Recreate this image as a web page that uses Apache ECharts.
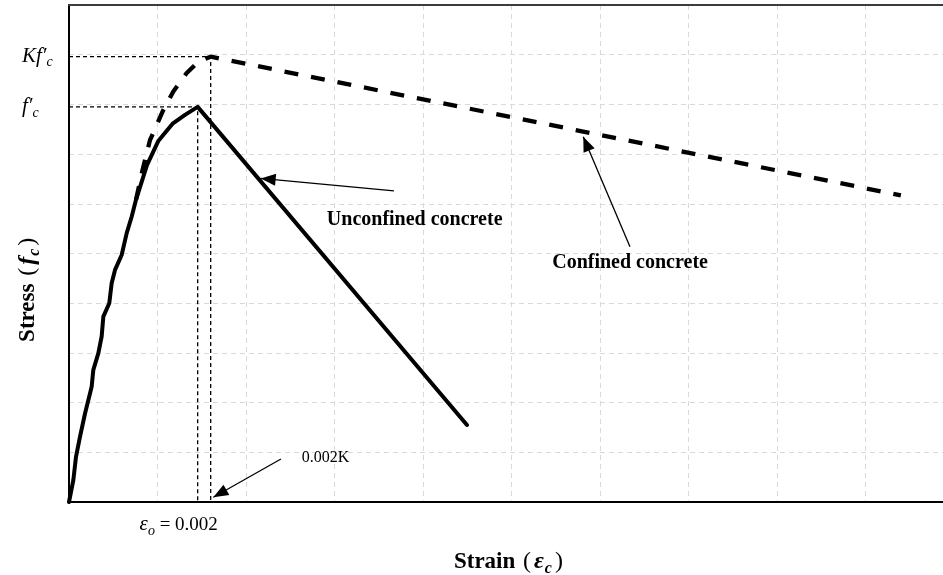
<!DOCTYPE html>
<html>
<head>
<meta charset="utf-8">
<script src="https://cdn.jsdelivr.net/npm/echarts@6/dist/echarts.min.js"></script>
<style>
  html, body { margin: 0; padding: 0; background: #fff; }
  #chart { width: 943px; height: 575px; }
</style>
</head>
<body>
<div id="chart"></div>
<script>
// Stress–strain model for unconfined and confined concrete (relative units)
const fcPrime = 7.95;      // f'c
const kfcPrime = 8.96;     // K f'c
const eps0 = 1.454;        // εo = 0.002
const epsCC = 1.601;       // 0.002K
const strainMax = 9.876;   // visible end of the strain axis

// Unconfined concrete: rising branch up to f'c, then linear softening
const unconfinedCurve = [
  [0, 0], [0.049, 0.44], [0.079, 0.91], [0.124, 1.31], [0.181, 1.78],
  [0.256, 2.32], [0.275, 2.66], [0.331, 2.99], [0.369, 3.33], [0.388, 3.73],
  [0.455, 4.00], [0.482, 4.40], [0.52, 4.67], [0.595, 4.97], [0.652, 5.41],
  [0.708, 5.74], [0.757, 6.08], [0.881, 6.78], [1.011, 7.27], [1.175, 7.62],
  [1.311, 7.79], [eps0, fcPrime], [4.497, 1.55]
];

// Confined concrete: leaves the unconfined branch and peaks at K f'c
const confinedCurve = [
  [0.757, 6.08], [0.831, 6.68], [0.915, 7.28], [1.066, 7.89], [1.179, 8.26],
  [1.330, 8.63], [1.461, 8.86], [epsCC, kfcPrime], [9.40, 6.17]
];

// Guide lines from the peaks to the axes
const fcGuide = [[0, fcPrime], [eps0, fcPrime], [eps0, 0]];
const kfcGuide = [[0, kfcPrime], [epsCC, kfcPrime], [epsCC, 0]];

// Leader arrows: [from, to]
const arrows = [
  [[3.672, 6.26], [2.166, 6.51]],
  [[6.339, 5.137], [5.811, 7.35]],
  [[2.395, 0.865], [1.631, 0.095]]
];

const serif = 'Liberation Serif';
const ink = '#000';

const richMath = {
  it: { fontFamily: serif, fontStyle: 'italic', fontSize: 21, color: ink },
  sub: { fontFamily: serif, fontStyle: 'italic', fontSize: 14, color: ink, padding: [12, 0, 0, 0] },
  rm: { fontFamily: serif, fontSize: 19, color: ink },
  bd: { fontFamily: serif, fontWeight: 'bold', fontSize: 23, color: ink },
  par: { fontFamily: serif, fontSize: 24, color: ink, padding: [0, 2, 0, 2] },
  bi: { fontFamily: serif, fontWeight: 'bold', fontStyle: 'italic', fontSize: 24, color: ink, padding: [0, 1, 0, 1] },
  bsub: { fontFamily: serif, fontWeight: 'bold', fontStyle: 'italic', fontSize: 16, color: ink, padding: [13, 1, 0, 0] }
};

const plain = { textBorderWidth: 0, color: ink, opacity: 1 };

// Text annotations anchored in data space
const annotations = [
  { value: [3.906, 5.68], label: Object.assign({ formatter: 'Unconfined concrete', fontFamily: serif, fontWeight: 'bold', fontSize: 20 }, plain) },
  { value: [6.34, 4.81], label: Object.assign({ formatter: 'Confined concrete', fontFamily: serif, fontWeight: 'bold', fontSize: 20 }, plain) },
  { value: [2.90, 0.885], label: Object.assign({ formatter: '0.002K', fontFamily: serif, fontSize: 16 }, plain) },
  { value: [1.24, -0.46], label: Object.assign({ formatter: '{it|ε}{sub|o}{rm| = 0.002}', rich: richMath }, plain) },
  { value: [-0.531, kfcPrime], label: Object.assign({ formatter: '{it|Kf′}{sub|c}', rich: richMath, align: 'left' }, plain) },
  { value: [-0.531, fcPrime], label: Object.assign({ formatter: '{it|f′}{sub|c}', rich: richMath, align: 'left' }, plain) },
  { value: [4.977, -1.21], label: Object.assign({ formatter: '{bd|Strain }{par|(}{bi|ε}{bsub|c}{par|)}', rich: richMath }, plain) },
  { value: [-0.463, 4.29], label: Object.assign({ formatter: '{bd|Stress }{par|(}{bi|f}{bsub|c}{par|)}', rich: richMath, rotate: 90 }, plain) }
];

const chart = echarts.init(document.getElementById('chart'), null, { renderer: 'canvas' });

const gridLine = { show: true, lineStyle: { color: '#d9d9d9', type: [5, 4], width: 1 } };

chart.setOption({
  animation: false,
  backgroundColor: '#fff',
  grid: { left: 69, top: 5, right: 0, bottom: 73 },
  xAxis: [
    {
      type: 'value', min: 0, max: strainMax, interval: 1,
      axisLine: { show: true, onZero: false, lineStyle: { color: ink, width: 2 } },
      axisTick: { show: false }, axisLabel: { show: false },
      splitLine: gridLine
    },
    {
      // top frame line
      type: 'value', position: 'top', min: 0, max: strainMax,
      axisLine: { show: true, onZero: false, lineStyle: { color: '#3c3c3c', width: 2 } },
      axisTick: { show: false }, axisLabel: { show: false }, splitLine: { show: false }
    }
  ],
  yAxis: {
    type: 'value', min: 0, max: 10, interval: 1,
    axisLine: { show: true, onZero: false, lineStyle: { color: ink, width: 2 } },
    axisTick: { show: false }, axisLabel: { show: false },
    splitLine: gridLine
  },
  series: [
    {
      type: 'line', data: fcGuide, showSymbol: false, silent: true,
      lineStyle: { color: ink, width: 1.3, type: [4, 3] }
    },
    {
      type: 'line', data: kfcGuide, showSymbol: false, silent: true,
      lineStyle: { color: ink, width: 1.3, type: [4, 3] }
    },
    {
      name: 'Unconfined concrete', type: 'line', data: unconfinedCurve, showSymbol: false, silent: true,
      lineStyle: { color: ink, width: 4, join: 'round', cap: 'round' }
    },
    {
      name: 'Confined concrete', type: 'line', data: confinedCurve, showSymbol: false, silent: true,
      lineStyle: { color: ink, width: 4.3, type: [14, 13], join: 'round' },
      markLine: {
        silent: true, animation: false,
        symbol: ['none', 'triangle'], symbolSize: [12, 15], symbolOffset: [[0, 0], [0, 7.5]],
        label: { show: false },
        lineStyle: { color: ink, width: 1.3, type: 'solid' },
        data: arrows.map(a => [{ coord: a[0] }, { coord: a[1] }])
      }
    },
    {
      type: 'scatter', data: annotations, symbolSize: 0, clip: false, silent: true,
      itemStyle: { opacity: 1 },
      label: { show: true, position: 'inside' }
    }
  ]
});
</script>
</body>
</html>
